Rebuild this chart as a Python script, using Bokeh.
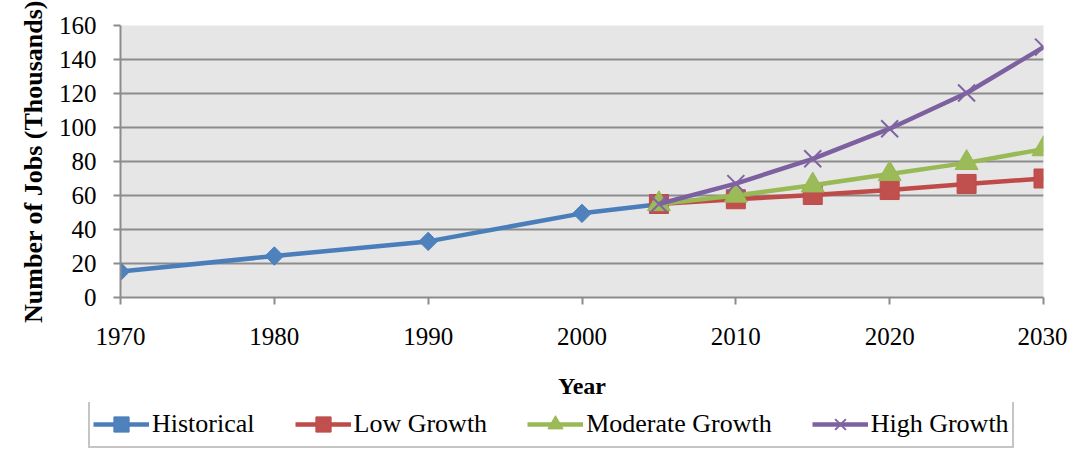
import math
from bokeh.plotting import figure
from bokeh.layouts import column
from bokeh.models import Range1d, Legend, LegendItem, FixedTicker
from bokeh.embed import file_html
from bokeh.resources import INLINE

# ---- data ----
years_hist = [1970, 1980, 1990, 2000, 2005]
historical = [15.3, 24.4, 33.0, 49.5, 54.9]
years_proj = [2005, 2010, 2015, 2020, 2025, 2030]
low_growth = [55.0, 57.8, 60.3, 63.2, 66.8, 70.0]
moderate_growth = [55.0, 60.0, 66.0, 72.7, 79.2, 87.3]
high_growth = [55.0, 67.0, 81.6, 99.3, 120.3, 147.3]
x_ticks = [1970, 1980, 1990, 2000, 2010, 2020, 2030]
y_ticks = [0, 20, 40, 60, 80, 100, 120, 140, 160]
series_names = ["Historical", "Low Growth", "Moderate Growth", "High Growth"]

FONT = "Liberation Serif"
GRID = "#8c8c8c"
STYLES = [
    dict(color="#4A7EBB", fill="#4F81BD", marker="square", angle=math.pi / 4, size=13),
    dict(color="#BE4B48", fill="#C0504D", marker="square", angle=0.0, size=19),
    dict(color="#98B954", fill="#9BBB59", marker="triangle", angle=0.0, size=23),
    dict(color="#7D60A0", fill="#8064A2", marker="x", angle=0.0, size=24),
]
SERIES = [(years_hist, historical), (years_proj, low_growth),
          (years_proj, moderate_growth), (years_proj, high_growth)]


def add_series(fig):
    rs = []
    for (xs, ys), st in zip(SERIES, STYLES):
        ln = fig.line(xs, ys, line_color=st["color"], line_width=4.5)
        if st["marker"] == "x":
            sc = fig.scatter(xs, ys, marker="x", size=st["size"],
                             line_color=st["fill"], line_width=2)
        else:
            sc = fig.scatter(xs, ys, marker=st["marker"], angle=st["angle"],
                             size=st["size"], fill_color=st["fill"],
                             line_color=st["color"])
        rs.append((ln, sc))
    return rs


# ---- main chart ----
p = figure(width=1067, height=402, output_backend="svg", toolbar_location=None,
           x_range=Range1d(1970, 2030), y_range=Range1d(0, 160),
           min_border_left=120, min_border_right=24, min_border_top=25,
           min_border_bottom=105)

p.background_fill_color = "#e6e6e6"
p.border_fill_color = "white"
p.outline_line_color = None

p.xgrid.grid_line_color = None
p.ygrid.grid_line_color = GRID
p.ygrid.grid_line_width = 2
p.ygrid.ticker = FixedTicker(ticks=y_ticks)

for ax in (p.xaxis[0], p.yaxis[0]):
    ax.axis_line_color = GRID
    ax.axis_line_width = 2
    ax.major_tick_line_color = GRID
    ax.major_tick_line_width = 2
    ax.major_tick_out = 7
    ax.major_tick_in = 0
    ax.minor_tick_line_color = None
    ax.major_label_text_font = FONT
    ax.major_label_text_font_size = "25px"
    ax.major_label_text_color = "black"
    ax.axis_label_text_font = FONT
    ax.axis_label_text_font_style = "bold"
    ax.axis_label_text_color = "black"

p.xaxis.ticker = FixedTicker(ticks=x_ticks)
p.yaxis.ticker = FixedTicker(ticks=y_ticks)
p.xaxis.major_label_standoff = 23
p.yaxis.major_label_standoff = 17

p.xaxis.axis_label = "Year"
p.xaxis.axis_label_text_font_size = "24px"
p.xaxis.axis_label_standoff = 25

p.yaxis.axis_label = "Number of Jobs (Thousands)"
p.yaxis.axis_label_text_font_size = "26px"
p.yaxis.axis_label_standoff = 8

add_series(p)

# ---- legend strip (separate figure so the legend can sit below the axis) ----
p2 = figure(width=1067, height=50, output_backend="svg", toolbar_location=None,
            x_range=Range1d(0, 1), y_range=Range1d(0, 1),
            x_axis_location=None, y_axis_location=None, min_border=0)
p2.grid.visible = False
p2.outline_line_color = None
p2.background_fill_color = "white"
p2.border_fill_color = "white"

if "frame_align" in p2.properties():
    p2.frame_align = False
    legend_loc = (88, 4)
    legend_spacing = 40
else:
    legend_loc = (0, 4)
    legend_spacing = 33

rs2 = add_series(p2)
items = [LegendItem(label=name, renderers=[ln, sc])
         for name, (ln, sc) in zip(series_names, rs2)]
legend = Legend(items=items, orientation="horizontal", location=legend_loc,
                margin=0, padding=3, spacing=legend_spacing,
                glyph_width=56, glyph_height=38, label_standoff=3,
                label_text_font=FONT, label_text_font_size="26px",
                label_text_color="black",
                border_line_color=GRID, border_line_width=2,
                background_fill_color="white", background_fill_alpha=1.0)
p2.add_layout(legend)

layout = column(p, p2, spacing=0)
open("out.html", "w").write(file_html(layout, INLINE))
